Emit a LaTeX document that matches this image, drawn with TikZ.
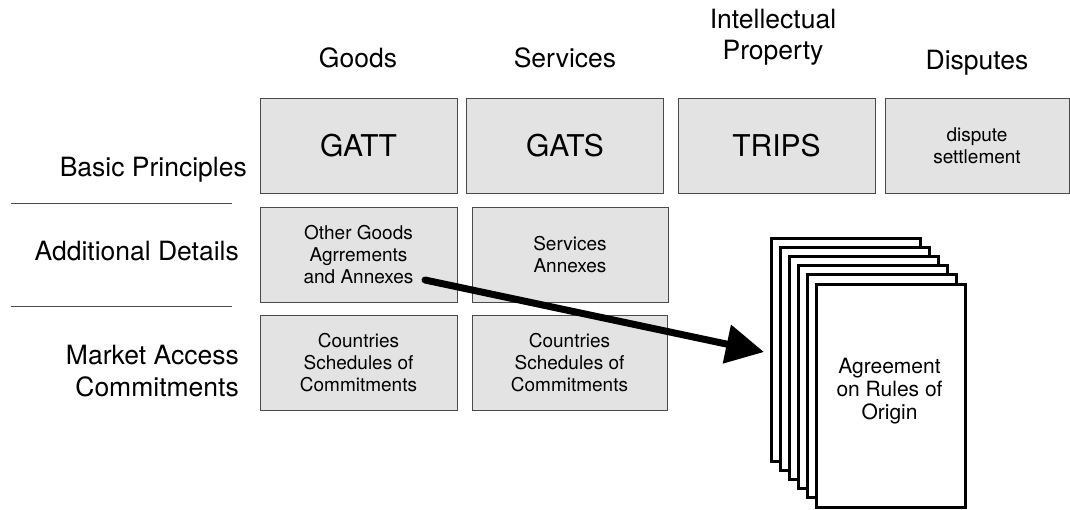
\documentclass[tikz,border=0pt]{standalone}
\usepackage{fontspec}
\setmainfont{TeX Gyre Heros}
\usetikzlibrary{arrows.meta}
\definecolor{cellgray}{HTML}{E3E3E3}
\definecolor{edgegray}{HTML}{4A4A4A}

\begin{document}
\begin{tikzpicture}[x=1pt, y=-1pt,
  cell/.style={draw=edgegray, line width=1pt, fill=cellgray, minimum width=197pt, minimum height=95pt, align=center, inner sep=0pt},
  big/.style={font=\fontsize{30}{36}\selectfont},
  small/.style={font=\fontsize{19}{22}\selectfont},
  hdr/.style={font=\fontsize{26.5}{31}\selectfont, align=center, inner sep=0pt},
  rowlabel/.style={font=\fontsize{26.5}{32}\selectfont, align=right, inner sep=0pt, anchor=east},
  page/.style={draw=black, line width=3pt, fill=white, minimum width=149pt, minimum height=223pt, anchor=north west, inner sep=0pt}]
\useasboundingbox (0,0) rectangle (1070,509);
%
\node[hdr] (goods) at (358,58) {Goods};
\node[hdr] (services) at (565,58) {Services};
\node[hdr] (ip) at (773,37) {Intellectual\\Property};
\node[hdr] (disputes) at (977,63) {Disputes};
%
\node[rowlabel] (basic) at (247,170) {Basic Principles};
\node[rowlabel] (additional) at (239,251) {Additional Details};
\node[rowlabel] (market) at (239,371) {Market Access\\Commitments};
\draw[edgegray, line width=1pt] (11,203)--(232,203);
\draw[edgegray, line width=1pt] (11,306)--(232,306);
%
\node[cell, big] (gatt) at (358.5,145.5) {GATT};
\node[cell, big] (gats) at (565,145.5) {GATS};
\node[cell, big] (trips) at (776.5,145.5) {TRIPS};
\node[cell, small, minimum width=184pt] (dispute) at (977,145.5) {dispute\\settlement};
\node[cell, small] (othergoods) at (358.5,254.5) {Other Goods\\Agrrements\\and Annexes};
\node[cell, small, minimum width=196pt] (servannex) at (570,254.5) {Services\\Annexes};
\node[cell, small] (goodssched) at (358.5,362.5) {Countries\\Schedules of\\Commitments};
\node[cell, small, minimum width=195pt] (servsched) at (569.5,362.5) {Countries\\Schedules of\\Commitments};
%
\coordinate (src) at (425,280);
\coordinate (tip) at (764,352);
\draw[line width=7pt, line cap=round, -{Triangle[length=38pt, width=38pt]}] (src) -- (tip);
%
\foreach \i in {0,...,5}
  \node[page] (pg\i) at (769.5+9*\i, 236.5+9.2*\i) {};
\node[align=center, font=\fontsize{21}{23}\selectfont] (roo) at (889.5,391) {Agreement\\on Rules of\\Origin};
\end{tikzpicture}
\end{document}
